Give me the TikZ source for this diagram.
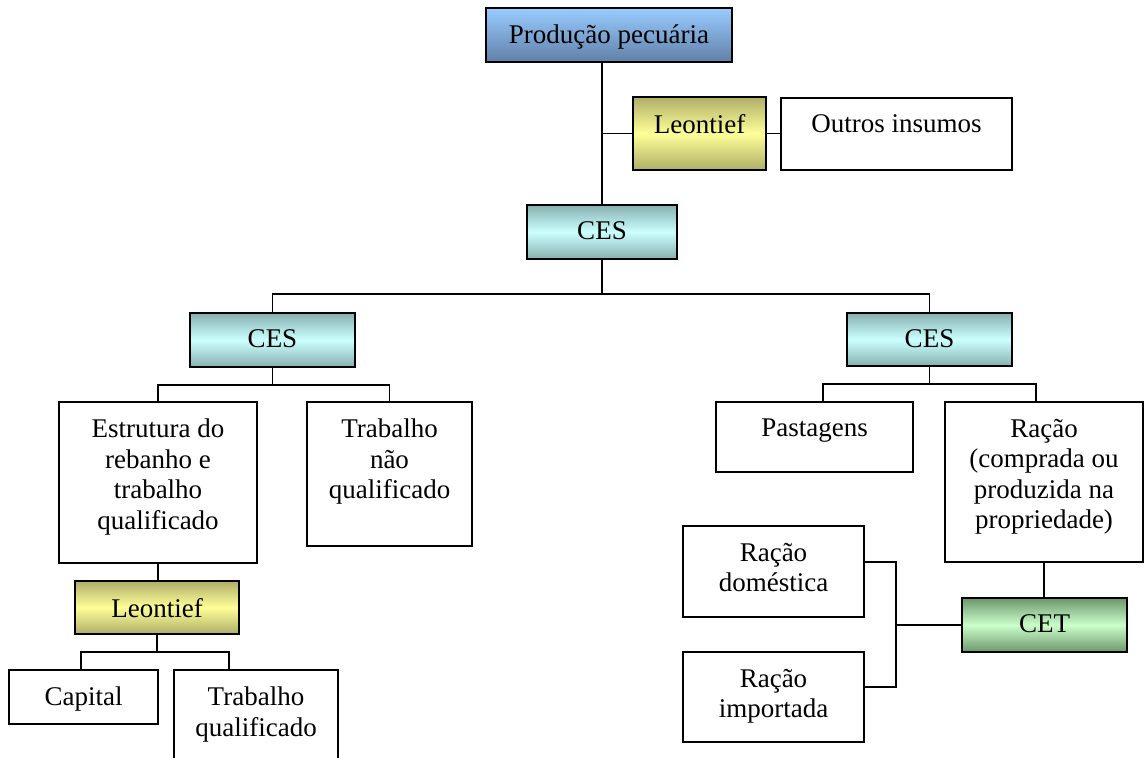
\documentclass[tikz,border=0pt]{standalone}
\usepackage{fontspec}
\setmainfont{Liberation Serif}
\definecolor{blueTop}{RGB}{153,204,255}
\definecolor{blueBot}{RGB}{96,128,168}
\definecolor{yelMid}{RGB}{255,255,153}
\definecolor{yelOut}{RGB}{174,174,104}
\definecolor{cyaMid}{RGB}{204,255,255}
\definecolor{cyaOut}{RGB}{134,176,176}
\definecolor{grnMid}{RGB}{204,255,204}
\definecolor{grnOut}{RGB}{108,150,108}
\tikzset{
  frame/.style={draw=black, line width=1.8pt, rectangle, inner sep=0pt, outer sep=0pt},
  plainbox/.style={frame, fill=white},
  bluebox/.style={frame, top color=blueTop, bottom color=blueBot},
  yelbox/.style={frame, top color=yelOut, bottom color=yelOut, middle color=yelMid},
  cyabox/.style={frame, top color=cyaOut, bottom color=cyaOut, middle color=cyaMid},
  grnbox/.style={frame, top color=grnOut, bottom color=grnOut, middle color=grnMid},
  label/.style={inner sep=0pt, outer sep=0pt, align=center, anchor=north,
    font=\fontsize{27}{30.5}\selectfont},
  wire/.style={line width=1.8pt, line cap=rect}
}
% box given by its corners: style, x1, y1, x2, y2, name
\newcommand{\rbox}[6]{%
  \node[#1, minimum width={#4pt-#2pt}, minimum height={#5pt-#3pt}]
    (#6) at ({(#2+#4)/2},{(#3+#5)/2}) {};}
% label at the top of a box: name, text
\newcommand{\rlabel}[2]{%
  \node[label] (#1-t) at ([yshift=-17pt]#1.north) {#2};}
\begin{document}
\begin{tikzpicture}[x=1pt, y=-1pt]
\useasboundingbox (0,0) rectangle (1144,758);

% boxes
\rbox{bluebox}{486}{8}{732}{62}{prod}
\rbox{yelbox}{633}{97}{766}{170}{leon1}
\rbox{plainbox}{781}{98}{1012}{170}{outros}
\rbox{cyabox}{527}{205}{677}{259}{ces0}
\rbox{cyabox}{190}{313}{355}{367}{cesL}
\rbox{cyabox}{847}{313}{1012}{366}{cesR}
\rbox{plainbox}{59}{402}{257}{563}{estr}
\rbox{plainbox}{307}{402}{472}{546}{trabn}
\rbox{plainbox}{716}{402}{913}{472}{past}
\rbox{plainbox}{945}{402}{1143}{562}{racao}
\rbox{yelbox}{75}{581}{239}{634}{leon2}
\rbox{grnbox}{962}{598}{1127}{652}{cet}
\rbox{plainbox}{683}{526}{864}{617}{dom}
\rbox{plainbox}{683}{652}{864}{742}{imp}
\rbox{plainbox}{9}{670}{158}{724}{cap}
\rbox{plainbox}{174}{670}{338}{776}{tq}

% labels
\rlabel{prod}{Produção pecuária}
\rlabel{leon1}{Leontief}
\rlabel{outros}{Outros insumos}
\rlabel{ces0}{CES}
\rlabel{cesL}{CES}
\rlabel{cesR}{CES}
\rlabel{estr}{Estrutura do\\rebanho e\\trabalho\\qualificado}
\rlabel{trabn}{Trabalho\\não\\qualificado}
\rlabel{past}{Pastagens}
\rlabel{racao}{Ração\\(comprada ou\\produzida na\\propriedade)}
\rlabel{leon2}{Leontief}
\rlabel{cet}{CET}
\rlabel{dom}{Ração\\doméstica}
\rlabel{imp}{Ração\\importada}
\rlabel{cap}{Capital}
\rlabel{tq}{Trabalho\\qualificado}

% junction points
\coordinate (j0) at (602,294);
\coordinate (jL) at (272.5,385);
\coordinate (jR) at (929.5,384);
\coordinate (xP) at (823,0);
\coordinate (xR) at (1036,0);
\coordinate (jB) at (157,652);
\coordinate (xC) at (81,0);
\coordinate (xT) at (229,0);
\coordinate (jC) at (896,626);
\coordinate (yD) at (0,562);
\coordinate (yI) at (0,687);

% connectors
\draw[wire] (prod.south -| ces0.north) -- (ces0.north);
\draw[wire] (leon1.west) -- (leon1.west -| ces0.north);
\draw[wire] (leon1.east) -- (outros.west |- leon1.east);
\draw[wire] (ces0.south) -- (j0);
\draw[wire] (cesL.north) -- (cesL.north |- j0) -- (cesR.north |- j0) -- (cesR.north);

\draw[wire] (cesL.south) -- (jL);
\draw[wire] (estr.north) -- (estr.north |- jL) -- (trabn.north |- jL) -- (trabn.north);
\draw[wire] (estr.south) -- (estr.south |- leon2.north);
\draw[wire] (leon2.south) -- (jB);
\draw[wire] (cap.north -| xC) -- (jB -| xC) -- (jB -| xT) -- (tq.north -| xT);

\draw[wire] (cesR.south) -- (jR);
\draw[wire] (past.north -| xP) -- (jR -| xP) -- (jR -| xR) -- (racao.north -| xR);
\draw[wire] (racao.south) -- (racao.south |- cet.north);
\draw[wire] (cet.west) -- (cet.west -| jC);
\draw[wire] (dom.east |- yD) -- (jC |- yD) -- (jC |- yI) -- (imp.east |- yI);
\end{tikzpicture}
\end{document}
